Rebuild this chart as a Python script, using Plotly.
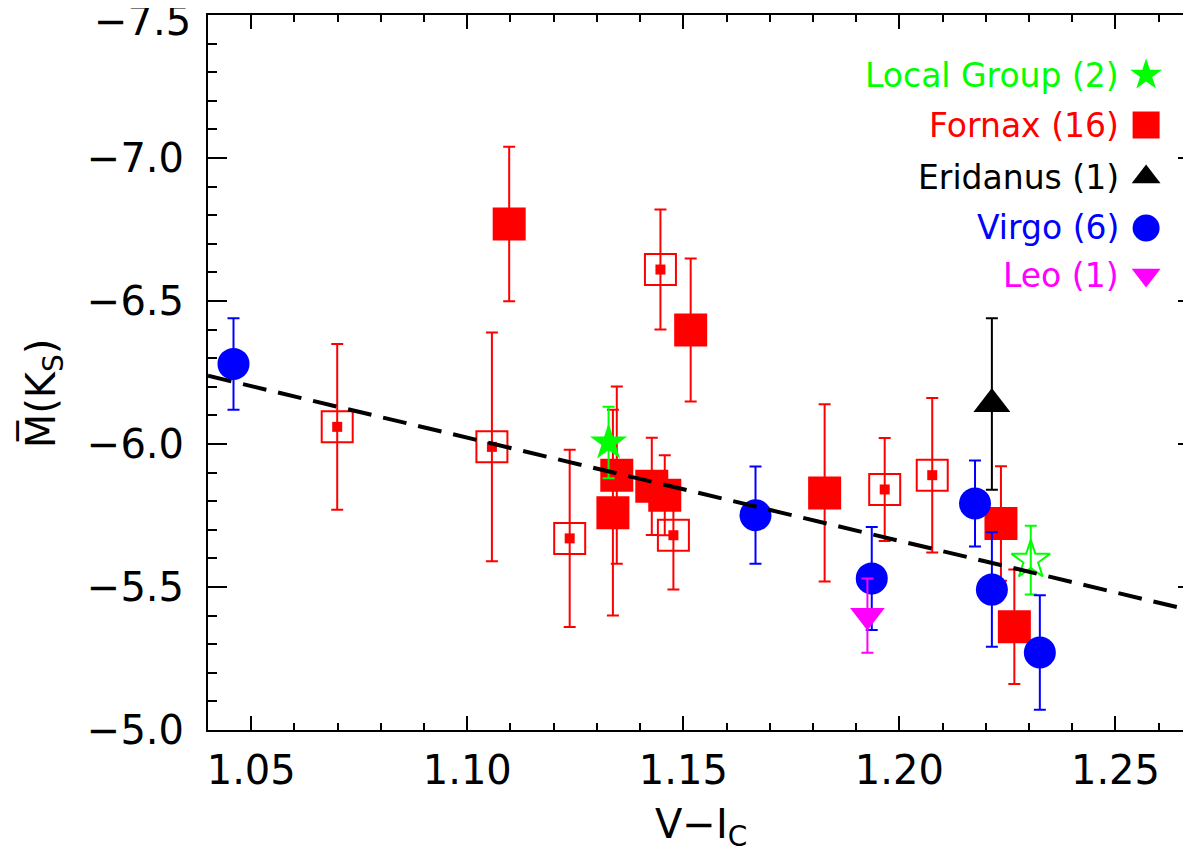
import plotly.graph_objects as go

# ---------------- data ----------------
fornax_filled_x = [1.1097, 1.1517, 1.1827, 1.1346, 1.1337, 1.1427, 1.1457, 1.2235, 1.2266]
fornax_filled_y = [-6.769, -6.399, -5.829, -5.891, -5.760, -5.852, -5.821, -5.722, -5.361]
fornax_filled_err = [0.27, 0.25, 0.31, 0.31, 0.36, 0.17, 0.14, 0.20, 0.20]

fornax_open_x = [1.0699, 1.1057, 1.1237, 1.1477, 1.1447, 1.2076, 1.1966]
fornax_open_y = [-6.060, -5.990, -5.670, -5.681, -6.610, -5.891, -5.841]
fornax_open_err = [0.29, 0.40, 0.31, 0.19, 0.21, 0.27, 0.18]

virgo_x = [1.0459, 1.1667, 1.1936, 1.2175, 1.2214, 1.2325]
virgo_y = [-6.280, -5.751, -5.530, -5.792, -5.491, -5.271]
virgo_err = [0.16, 0.17, 0.18, 0.15, 0.20, 0.20]

lg_filled_x = [1.1327]
lg_filled_y = [-6.005]
lg_filled_err = [0.125]

lg_open_x = [1.2304]
lg_open_y = [-5.594]
lg_open_err = [0.12]

eridanus_x = [1.2214]
eridanus_y = [-6.140]
eridanus_err = [0.30]

leo_x = [1.1926]
leo_y = [-5.400]
leo_err = [0.13]

fit_x = [1.04, 1.27]
fit_y = [-6.2385, -5.4089]

x_tickvals = [1.05, 1.10, 1.15, 1.20, 1.25]
x_ticktext = ["1.05", "1.10", "1.15", "1.20", "1.25"]
y_tickvals = [-7.5, -7.0, -6.5, -6.0, -5.5, -5.0]
y_ticktext = ["\u22127.5", "\u22127.0", "\u22126.5", "\u22126.0", "\u22125.5", "\u22125.0"]

legend_labels = ["Local Group (2)", "Fornax (16)", "Eridanus (1)", "Virgo (6)", "Leo (1)"]
legend_symbols = ["star", "square", "triangle-up", "circle", "triangle-down"]

# ---------------- style ----------------
GREEN = "#00ff00"
RED = "#ff0000"
BLACK = "#000000"
BLUE = "#0000ff"
MAGENTA = "#ff00ff"
legend_colors = [GREEN, RED, BLACK, BLUE, MAGENTA]
legend_sizes = [24, 27, 25, 27, 25]
FONT = "DejaVu Sans"

W, H = 1191, 849
ML, MR, MT, MB = 200, 0, 7, 127
PW = W - ML - MR
PH = H - MT - MB

fig = go.Figure()


def add_points(x, y, err, symbol, size, color, lw=0):
    fig.add_trace(go.Scatter(
        x=x, y=y, mode="markers",
        marker=dict(symbol=symbol, size=size, color=color, opacity=1,
                    line=dict(width=lw, color=color)),
        error_y=dict(type="data", array=err, visible=True, color=color,
                     thickness=2, width=6) if err is not None else None,
        showlegend=False, hoverinfo="skip", cliponaxis=False,
    ))


# Fornax
add_points(fornax_open_x, fornax_open_y, fornax_open_err, "square-open", 31, RED, lw=2)
add_points(fornax_open_x, fornax_open_y, None, "square", 10, RED)
add_points(fornax_filled_x, fornax_filled_y, fornax_filled_err, "square", 33, RED)
# Local Group
add_points(lg_filled_x, lg_filled_y, lg_filled_err, "star", 28, GREEN)
add_points(lg_open_x, lg_open_y, lg_open_err, "star-open", 29, GREEN, lw=2)
# Virgo
add_points(virgo_x, virgo_y, virgo_err, "circle", 32, BLUE)
# Eridanus
add_points(eridanus_x, eridanus_y, eridanus_err, "triangle-up", 32, BLACK)
# Leo
add_points(leo_x, leo_y, leo_err, "triangle-down", 30, MAGENTA)

# fit line
fig.add_trace(go.Scatter(
    x=fit_x, y=fit_y, mode="lines",
    line=dict(color=BLACK, width=4, dash="24px,12px"),
    showlegend=False, hoverinfo="skip",
))

# legend (text + symbol on right)
leg_py = [67, 117, 169, 220, 267]
leg_y = [(H - MB - p) / PH for p in leg_py]
leg_text_x = (1115 - ML) / PW
leg_sym_x = (1140 - ML) / PW
fig.add_trace(go.Scatter(
    x=[leg_sym_x] * len(legend_labels), y=leg_y, mode="markers",
    xaxis="x2", yaxis="y2",
    marker=dict(symbol=legend_symbols, size=legend_sizes, color=legend_colors,
                opacity=1, line=dict(width=0)),
    showlegend=False, hoverinfo="skip", cliponaxis=False,
))
for lab, col, yy in zip(legend_labels, legend_colors, leg_y):
    fig.add_annotation(
        x=leg_text_x, y=yy, xref="paper", yref="paper",
        text=lab, showarrow=False, xanchor="right", yanchor="middle",
        font=dict(family=FONT, size=33, color=col),
    )

# top y tick label (shifted down inside the figure, as in the original)
fig.add_annotation(
    x=0, y=1, xref="paper", yref="paper", text=y_ticktext[0], showarrow=False,
    xanchor="right", yanchor="middle", xshift=-15, yshift=-6,
    font=dict(family=FONT, size=40, color=BLACK),
)

# axis titles
fig.add_annotation(
    x=(35 - ML) / PW, y=(H - MB - 385) / PH, xref="paper", yref="paper",
    text="M\u0305(K<sub>S</sub>)", textangle=-90, showarrow=False,
    xanchor="center", yanchor="middle",
    font=dict(family=FONT, size=40, color=BLACK),
)
fig.add_annotation(
    x=(694 - ML) / PW, y=(H - MB - 819) / PH, xref="paper", yref="paper",
    text="V\u2212I<sub>C</sub>", showarrow=False,
    xanchor="center", yanchor="middle",
    font=dict(family=FONT, size=40, color=BLACK),
)

axis_common = dict(
    showline=True, linecolor=BLACK, linewidth=2, mirror="allticks",
    ticks="inside", tickwidth=2, tickcolor=BLACK, showgrid=False, zeroline=False,
    tickfont=dict(family=FONT, size=40, color=BLACK),
)

fig.update_layout(
    width=W, height=H,
    margin=dict(l=ML, r=MR, t=MT, b=MB),
    paper_bgcolor="white", plot_bgcolor="white",
    xaxis=dict(range=[1.04, 1.04 + PW / 4330.0], tickvals=x_tickvals, ticktext=x_ticktext,
               ticklen=14, ticklabelstandoff=4,
               minor=dict(ticks="inside", ticklen=7, tickwidth=2, tickcolor=BLACK,
                          dtick=0.01, tick0=1.04, showgrid=False),
               **axis_common),
    yaxis=dict(range=[-5.0, -7.5], tickvals=y_tickvals[1:], ticktext=y_ticktext[1:],
               ticklen=19, ticklabelstandoff=14,
               minor=dict(ticks="inside", ticklen=9, tickwidth=2, tickcolor=BLACK,
                          dtick=0.1, tick0=-7.5, showgrid=False),
               **axis_common),
    xaxis2=dict(range=[0, 1], overlaying="x", visible=False, fixedrange=True),
    yaxis2=dict(range=[0, 1], overlaying="y", visible=False, fixedrange=True),
    showlegend=False,
)

fig.write_html("out.html")
